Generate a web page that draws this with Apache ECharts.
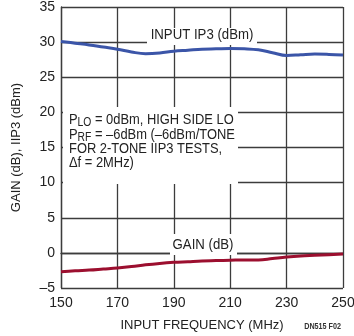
<!DOCTYPE html>
<html><head><meta charset="utf-8">
<script src="https://cdn.jsdelivr.net/npm/echarts@6/dist/echarts.min.js"></script>
<style>html,body{margin:0;padding:0;background:#fff}#c{width:354px;height:336px}</style>
</head><body><div id="c"></div>
<script>
var freqs = ['150','155','160','165','170','175','180','185','190','195','200','205','210','215','220','225','230','235','240','245','250'];
var ip3 = [30.1,29.85,29.6,29.3,29.0,28.6,28.35,28.45,28.7,28.85,29.0,29.05,29.1,29.05,28.9,28.5,28.1,28.2,28.3,28.25,28.15];
var gain = [-2.7,-2.55,-2.45,-2.3,-2.15,-1.95,-1.7,-1.5,-1.35,-1.25,-1.15,-1.1,-1.05,-1.0,-1.0,-0.8,-0.6,-0.45,-0.35,-0.25,-0.15];
var yTicks = {min:-5, max:35, step:5};

var FONT = '"Liberation Sans", Arial, sans-serif';
var GRID = '#3c3c3c';
var TXT = '#222';
var chart = echarts.init(document.getElementById('c'));
chart.setOption({
  animation:false,
  grid:{left:61, right:11, top:7, bottom:48, containLabel:false, outerBoundsMode:'none'},
  xAxis:{type:'category', data:freqs, boundaryGap:false,
    name:'INPUT FREQUENCY (MHz)', nameLocation:'middle', nameGap:31,
    nameTextStyle:{fontFamily:FONT, fontSize:13, color:TXT},
    axisLine:{lineStyle:{color:GRID, width:1.3}},
    axisTick:{show:false},
    axisLabel:{interval:3, fontFamily:FONT, fontSize:14, color:TXT, margin:8},
    splitLine:{show:true, interval:3, lineStyle:{color:GRID, width:1.3}}
  },
  yAxis:{type:'value', min:yTicks.min, max:yTicks.max, interval:yTicks.step,
    name:'GAIN (dB), IIP3 (dBm)', nameLocation:'middle', nameGap:38, nameRotate:90,
    nameTextStyle:{fontFamily:FONT, fontSize:13, color:TXT},
    axisLine:{show:true, lineStyle:{color:GRID, width:1.3}},
    axisTick:{show:false},
    axisLabel:{fontFamily:FONT, fontSize:14, color:TXT, margin:6,
      formatter:function(v){return v<0 ? '\u2013'+(-v) : ''+v;}},
    splitLine:{show:true, lineStyle:{color:GRID, width:1.3}}
  },
  series:[
    {type:'line', data:ip3, smooth:0.4, symbol:'none', lineStyle:{color:'#3b55a8', width:3}, z:3},
    {type:'line', data:gain, smooth:0.4, symbol:'none', lineStyle:{color:'#9c0f2f', width:3}, z:3}
  ],
  graphic:[
    {type:'rect', z:10, shape:{x:147, y:28, width:110, height:17}, style:{fill:'#fff'}},
    {type:'text', z:11, x:202, y:35, scaleX:0.88, style:{text:'INPUT IP3 (dBm)', font:'15px '+FONT, fill:TXT, align:'center', verticalAlign:'middle'}},
    {type:'rect', z:10, shape:{x:170, y:234, width:67, height:21}, style:{fill:'#fff'}},
    {type:'text', z:11, x:203, y:245, scaleX:0.88, style:{text:'GAIN (dB)', font:'15px '+FONT, fill:TXT, align:'center', verticalAlign:'middle'}},
    {type:'rect', z:10, shape:{x:63, y:107, width:175, height:77}, style:{fill:'#fff'}},
    {type:'text', z:11, x:69, y:113, scaleX:0.86, style:{
      text:'P{s|LO} = 0dBm, HIGH SIDE LO\nP{s|RF} = \u20136dBm (\u20136dBm/TONE\nFOR 2-TONE IIP3 TESTS,\n\u0394f = 2MHz)',
      font:'15px '+FONT, fill:TXT, lineHeight:14.3, align:'left', verticalAlign:'top',
      rich:{s:{fontFamily:FONT, fontSize:12, fill:TXT, padding:[6,0,0,0], lineHeight:14.3}}
    }},
    {type:'text', z:11, x:341, y:327, scaleX:0.8, style:{text:'DN515 F02', font:'bold 9px '+FONT, fill:'#333', align:'right', verticalAlign:'middle'}}
  ]
});
</script></body></html>
